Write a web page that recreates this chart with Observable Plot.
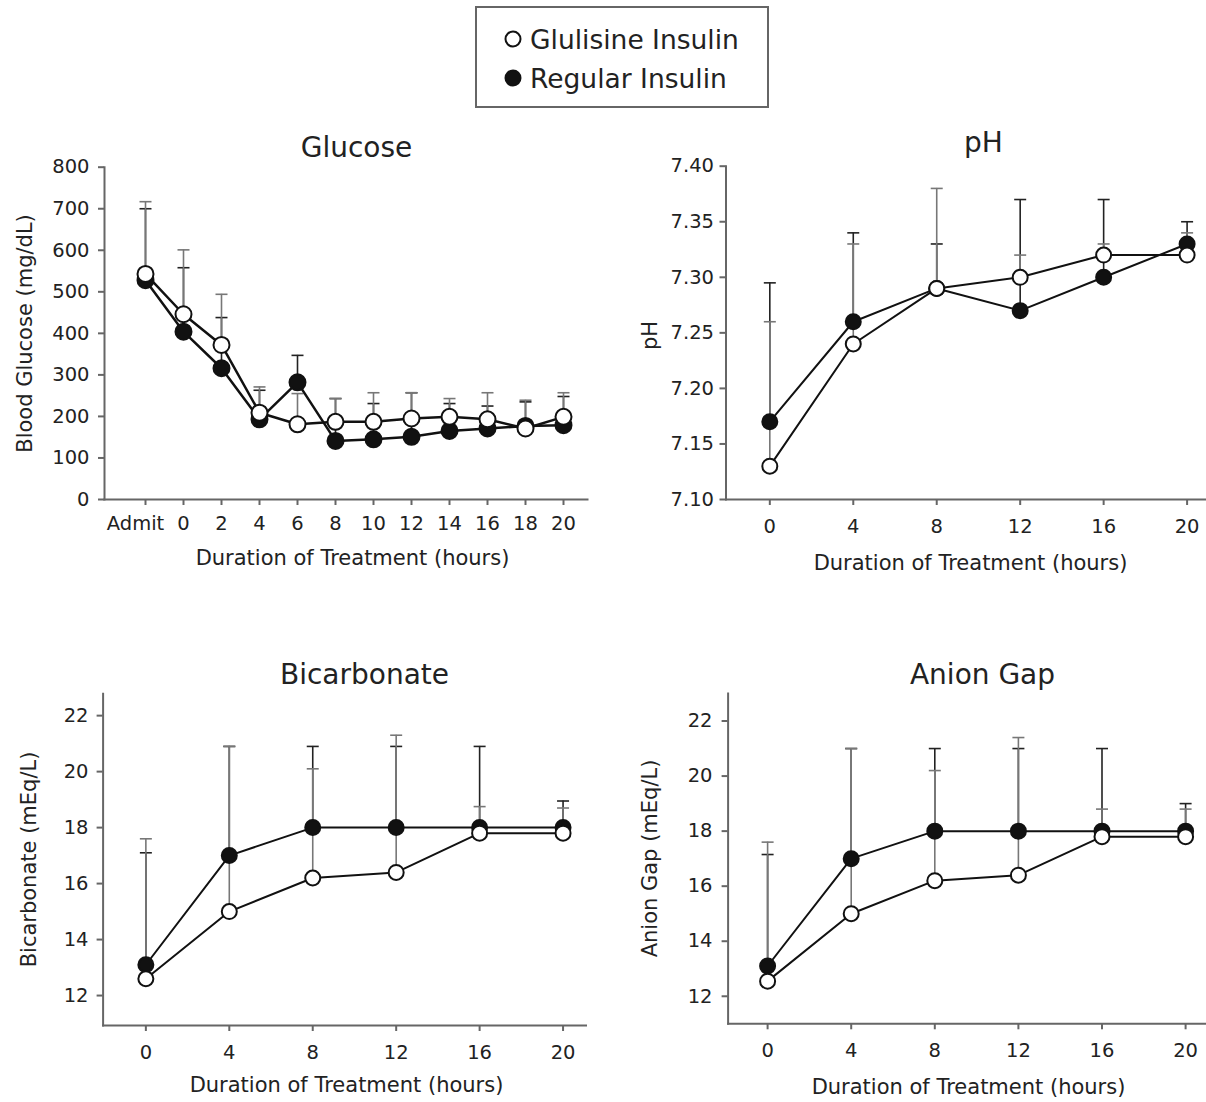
<!DOCTYPE html>
<html><head><meta charset="utf-8">
<script src="https://cdn.jsdelivr.net/npm/d3@7"></script>
<script src="https://cdn.jsdelivr.net/npm/@observablehq/plot@0.6"></script>
<style>
body{margin:0;background:#fff;}
#root{position:relative;width:1206px;height:1102px;background:#fff;overflow:hidden;font-family:"DejaVu Sans",sans-serif;color:#222;}
#root svg{position:absolute;}
</style></head><body><div id="root"></div>
<script>
// ---------- data ----------
const seriesNames = ["Glulisine Insulin", "Regular Insulin"];

const glucoseTimes = ["Admit","0","2","4","6","8","10","12","14","16","18","20"];
const glucoseGlulisine = [543,446,372,209,181,187,187,195,199,193,171,199];
const glucoseGlulisineUpper = [717,601,494,271,255,243,257,257,243,257,239,257];
const glucoseRegular = [528,404,316,193,282,141,145,151,165,171,177,179];
const glucoseRegularUpper = [700,558,438,263,347,243,231,257,231,225,235,248];
const glucoseTicks = [0,100,200,300,400,500,600,700,800];

const labTimes = [0,4,8,12,16,20];

const phGlulisine = [7.13,7.24,7.29,7.30,7.32,7.32];
const phGlulisineUpper = [7.26,7.33,7.38,7.32,7.33,7.34];
const phRegular = [7.17,7.26,7.29,7.27,7.30,7.33];
const phRegularUpper = [7.295,7.34,7.33,7.37,7.37,7.35];
const phTicks = [7.10,7.15,7.20,7.25,7.30,7.35,7.40];

const bicarbGlulisine = [12.6,15.0,16.2,16.4,17.8,17.8];
const bicarbGlulisineUpper = [17.6,20.9,20.1,21.3,18.75,18.7];
const bicarbRegular = [13.1,17.0,18.0,18.0,18.0,18.0];
const bicarbRegularUpper = [17.1,20.9,20.9,20.9,20.9,18.95];

const gapGlulisine = [12.55,15.0,16.2,16.4,17.8,17.8];
const gapGlulisineUpper = [17.6,21.0,20.2,21.4,18.8,18.8];
const gapRegular = [13.1,17.0,18.0,18.0,18.0,18.0];
const gapRegularUpper = [17.15,21.0,21.0,21.0,21.0,19.0];

const labYTicks = [12,14,16,18,20,22];
const xTitle = "Duration of Treatment (hours)";

// ---------- helpers ----------
const rowsOf = (times, mean, upper) => times.map((t, i) => ({t, mean: mean[i], upper: upper[i]}));
const cap = {draw(ctx, size){ const r = Math.sqrt(size / Math.PI); ctx.moveTo(-r, 0); ctx.lineTo(r, 0); }};
const root = document.getElementById("root");

function panel(c) {
  const plotCx = (c.ml + c.width - c.mr) / 2;
  const plotCy = (c.mt + c.height - c.mb) / 2;
  const glu = rowsOf(c.times, c.glu, c.gluUp);
  const reg = rowsOf(c.times, c.reg, c.regUp);
  const errMarks = (rows, err) => [
    Plot.ruleX(rows, {x: "t", y1: "mean", y2: "upper", stroke: err, strokeWidth: 1.6}),
    Plot.dot(rows, {x: "t", y: "upper", symbol: cap, r: 6, stroke: err, strokeWidth: 1.6, fill: "none"})
  ];
  const chart = Plot.plot({
    width: c.width, height: c.height,
    marginLeft: c.ml, marginRight: c.mr, marginTop: c.mt, marginBottom: c.mb,
    x: c.x, y: c.y,
    style: {fontFamily: "DejaVu Sans", fontSize: "19.5px", color: "#222", background: "transparent", overflow: "visible"},
    marks: [
      Plot.frame({anchor: "left", stroke: "#666", strokeWidth: 2}),
      Plot.frame({anchor: "bottom", stroke: "#666", strokeWidth: 2}),
      Plot.axisX({ticks: c.xTicks, tickFormat: c.xFormat, tickSize: 6, tickPadding: c.padX, stroke: "#666", strokeWidth: 2, label: null}),
      ...(c.extraX || []),
      Plot.axisY({ticks: c.yTicks, tickFormat: c.yFormat, tickSize: 6, tickPadding: c.padY, stroke: "#666", strokeWidth: 2, label: null}),
      ...errMarks(reg, "#222"),
      ...errMarks(glu, "#777"),
      Plot.line(reg, {x: "t", y: "mean", stroke: "#111", strokeWidth: c.lw}),
      Plot.line(glu, {x: "t", y: "mean", stroke: "#111", strokeWidth: c.lw}),
      Plot.dot(reg, {x: "t", y: "mean", r: c.r, fill: "#111", stroke: "#111", strokeWidth: 2}),
      Plot.dot(glu, {x: "t", y: "mean", r: c.r, fill: "#fff", stroke: "#111", strokeWidth: 2}),
      Plot.text([c.title], {frameAnchor: "top", text: d => d, fontSize: 28, fill: "#222",
        textAnchor: "middle", lineAnchor: "middle",
        dx: c.titlePos[0] - c.left - plotCx, dy: c.titlePos[1] - c.top - c.mt}),
      Plot.text([c.ylabel], {frameAnchor: "left", text: d => d, rotate: -90, fontSize: 21, fill: "#222",
        textAnchor: "middle", lineAnchor: "middle",
        dx: c.ylabelPos[0] - c.left - c.ml, dy: c.ylabelPos[1] - c.top - plotCy}),
      Plot.text([xTitle], {frameAnchor: "bottom", text: d => d, fontSize: 21, fill: "#222",
        textAnchor: "middle", lineAnchor: "middle",
        dx: c.xlabelPos[0] - c.left - plotCx, dy: c.xlabelPos[1] - c.top - (c.height - c.mb)})
    ]
  });
  chart.style.left = c.left + "px";
  chart.style.top = c.top + "px";
  root.appendChild(chart);
}

panel({
  left: 0, top: 120, width: 600, height: 460, ml: 104, mr: 13, mt: 46.7, mb: 81,
  times: glucoseTimes, glu: glucoseGlulisine, gluUp: glucoseGlulisineUpper, reg: glucoseRegular, regUp: glucoseRegularUpper,
  x: {type: "point", domain: glucoseTimes, range: [142.7, 566], padding: 0},
  y: {domain: [0, 800]},
  xFormat: d => d === "Admit" ? "" : d,
  extraX: [Plot.axisX({ticks: ["Admit"], tickSize: 0, tickPadding: 16.5, dx: -10, label: null})],
  yTicks: glucoseTicks, yFormat: d3.format("d"), padX: 10.5, padY: 9, lw: 2.5, r: 8,
  title: "Glucose", titlePos: [356, 148],
  ylabel: "Blood Glucose (mg/dL)", ylabelPos: [25, 333], xlabelPos: [352, 558]
});

panel({
  left: 600, top: 120, width: 606, height: 460, ml: 125.5, mr: 0, mt: 45.7, mb: 81,
  times: labTimes, glu: phGlulisine, gluUp: phGlulisineUpper, reg: phRegular, regUp: phRegularUpper,
  x: {domain: [-2.1, 20.93]}, y: {domain: [7.10, 7.40]},
  xTicks: labTimes, xFormat: d3.format("d"), yTicks: phTicks, yFormat: d3.format(".2f"), padX: 13.5, padY: 6, lw: 2, r: 7.5,
  title: "pH", titlePos: [983, 143],
  ylabel: "pH", ylabelPos: [650, 335], xlabelPos: [970, 563]
});

panel({
  left: 0, top: 640, width: 600, height: 462, ml: 102.6, mr: 14.5, mt: 53.3, mb: 77,
  times: labTimes, glu: bicarbGlulisine, gluUp: bicarbGlulisineUpper, reg: bicarbRegular, regUp: bicarbRegularUpper,
  x: {domain: [-2.05, 21.1]}, y: {domain: [10.93, 22.78]},
  xTicks: labTimes, xFormat: d3.format("d"), yTicks: labYTicks, yFormat: d3.format("d"), padX: 13.5, padY: 8.6, lw: 2, r: 7.5,
  title: "Bicarbonate", titlePos: [364, 675],
  ylabel: "Bicarbonate (mEq/L)", ylabelPos: [29, 859], xlabelPos: [346, 1085]
});

panel({
  left: 600, top: 640, width: 606, height: 462, ml: 127.6, mr: 0, mt: 53, mb: 78.7,
  times: labTimes, glu: gapGlulisine, gluUp: gapGlulisineUpper, reg: gapRegular, regUp: gapRegularUpper,
  x: {domain: [-1.89, 21.0]}, y: {domain: [11.0, 23.0]},
  xTicks: labTimes, xFormat: d3.format("d"), yTicks: labYTicks, yFormat: d3.format("d"), padX: 13.5, padY: 9.6, lw: 2, r: 7.5,
  title: "Anion Gap", titlePos: [982, 675],
  ylabel: "Anion Gap (mEq/L)", ylabelPos: [650, 858], xlabelPos: [968, 1087]
});

// ---------- legend ----------
const legend = d3.create("svg").attr("width", 294).attr("height", 102)
  .style("left", "475px").style("top", "6px");
legend.append("rect").attr("x", 1).attr("y", 1).attr("width", 292).attr("height", 100)
  .attr("fill", "#fff").attr("stroke", "#666").attr("stroke-width", 2);
const legendRows = legend.selectAll("g").data(seriesNames).join("g")
  .attr("transform", (d, i) => `translate(0, ${i === 0 ? 33 : 72})`);
legendRows.append("circle").attr("cx", 38).attr("r", 7.5)
  .attr("fill", (d, i) => i === 0 ? "#fff" : "#111").attr("stroke", "#111").attr("stroke-width", 2);
legendRows.append("text").attr("x", 55).attr("dy", "0.36em")
  .attr("font-family", "DejaVu Sans").attr("font-size", 26.5).attr("fill", "#222").text(d => d);
root.appendChild(legend.node());
</script></body></html>
